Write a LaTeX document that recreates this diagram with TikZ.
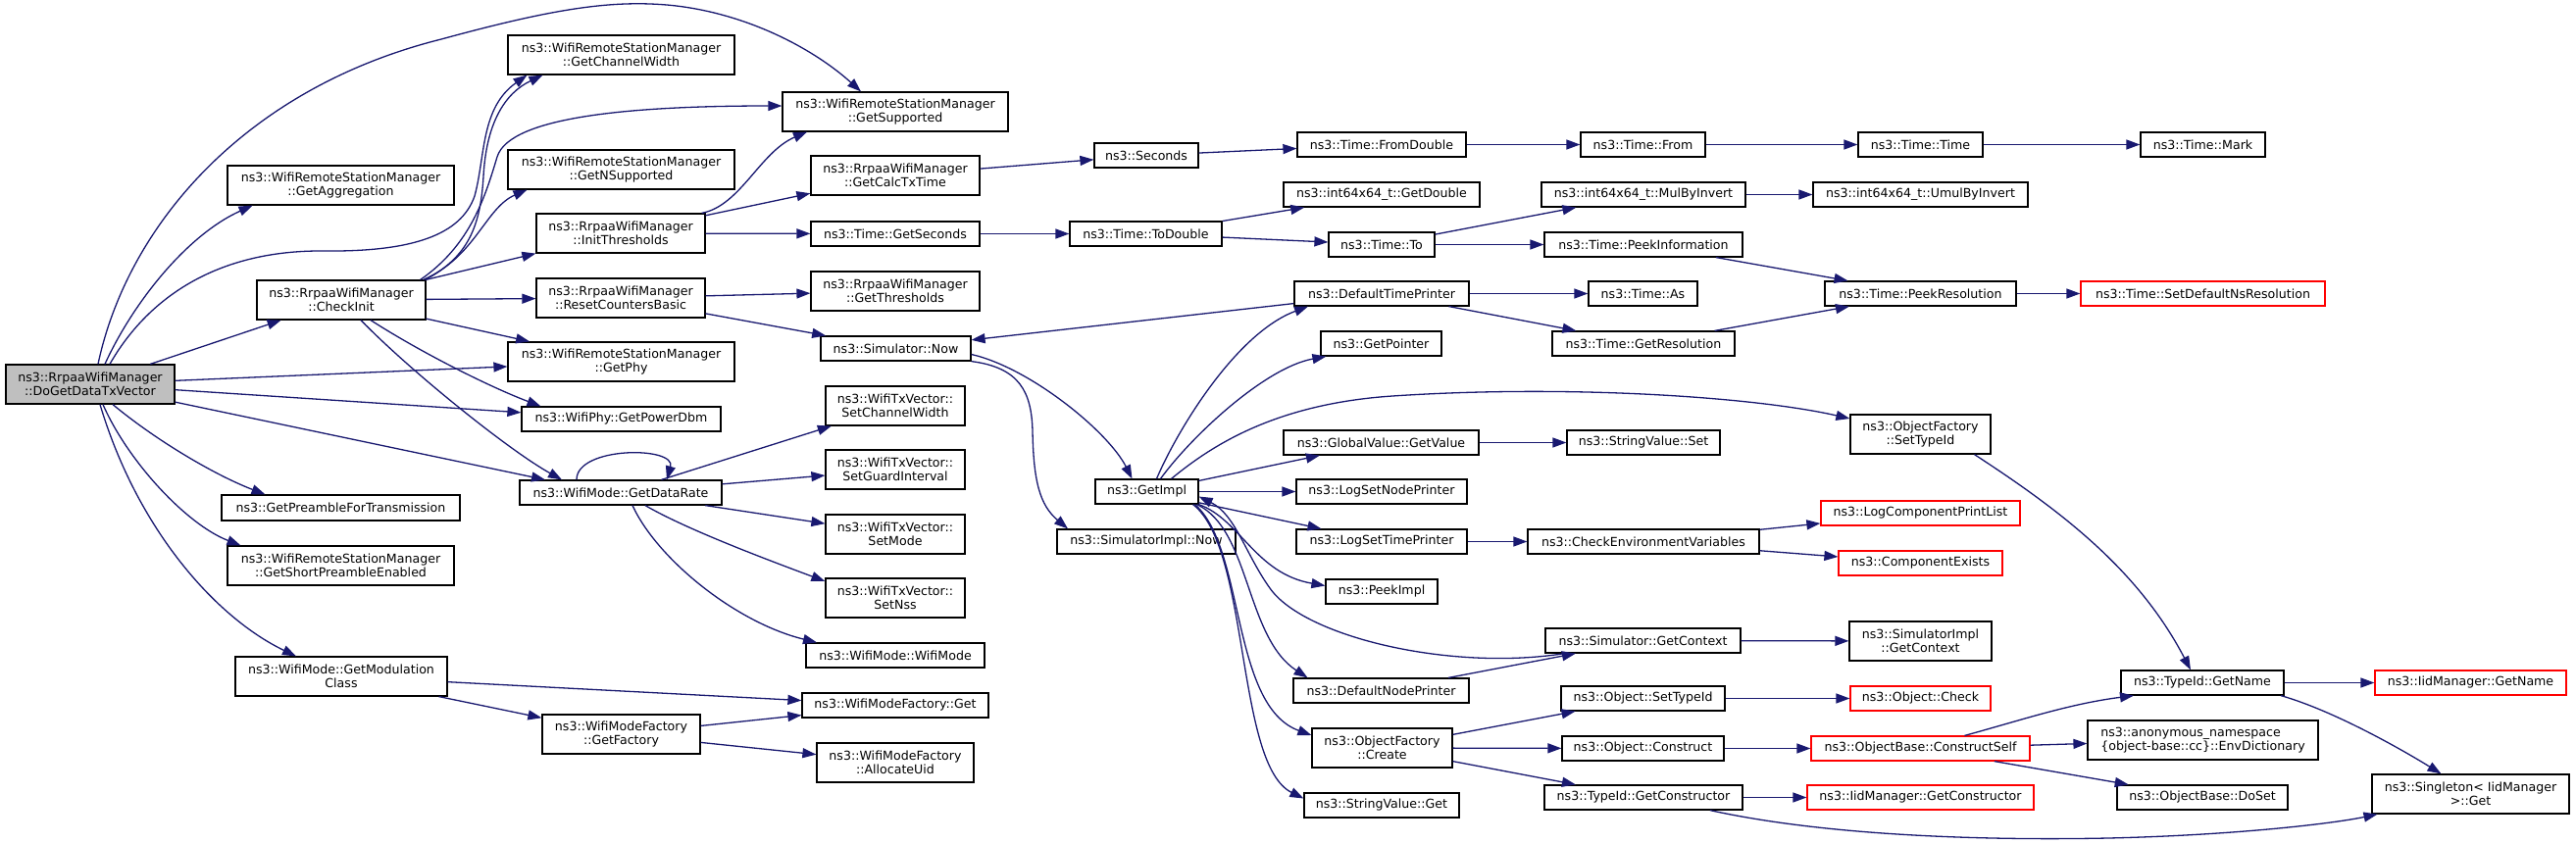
\documentclass[tikz,border=0pt]{standalone}
\usepackage{fontspec}
\setmainfont{DejaVu Sans}
\usetikzlibrary{arrows.meta}
\definecolor{navy}{HTML}{191970}
\definecolor{rootfill}{HTML}{BFBFBF}
\tikzset{
 box/.style={draw=black, line width=1.2pt, fill=white, rectangle, inner sep=0pt, align=center, font=\fontsize{12.6}{14}\selectfont},
 root/.style={fill=rootfill},
 trunc/.style={draw=red},
 arr/.style={draw=navy, line width=1.3pt, -{Triangle[length=14pt,width=10pt]}},
}
\newcommand\mybox[7][]{\node[box,#1,minimum width={#4-#3},minimum height={#6-#5}] (#2) at ({(#3+#4)/2},{(#5+#6)/2}) {#7};}
\begin{document}
\begin{tikzpicture}[x=1pt,y=-1pt]
\fill[white] (0,0) rectangle (2627,860);
\useasboundingbox (0,0) rectangle (2627,860);
% column 0
\mybox[root]{D}{6}{178}{372}{412}{ns3::RrpaaWifiManager\\::DoGetDataTxVector}
% column 1
\mybox{Agg}{232}{463}{169}{209}{ns3::WifiRemoteStationManager\\::GetAggregation}
\mybox{CI}{262}{434}{286}{326}{ns3::RrpaaWifiManager\\::CheckInit}
\mybox{Pre}{226}{469}{505}{531}{ns3::GetPreambleForTransmission}
\mybox{SPE}{232}{463}{557}{597}{ns3::WifiRemoteStationManager\\::GetShortPreambleEnabled}
\mybox{MC}{240}{456}{670}{710}{ns3::WifiMode::GetModulation\\Class}
% column 2
\mybox{CW}{518}{749}{36}{76}{ns3::WifiRemoteStationManager\\::GetChannelWidth}
\mybox{NS}{518}{749}{153}{193}{ns3::WifiRemoteStationManager\\::GetNSupported}
\mybox{IT}{547}{719}{218}{258}{ns3::RrpaaWifiManager\\::InitThresholds}
\mybox{RCB}{547}{719}{284}{324}{ns3::RrpaaWifiManager\\::ResetCountersBasic}
\mybox{GP}{518}{749}{349}{389}{ns3::WifiRemoteStationManager\\::GetPhy}
\mybox{PD}{532}{735}{415}{440}{ns3::WifiPhy::GetPowerDbm}
\mybox{DR}{530}{736}{490}{515}{ns3::WifiMode::GetDataRate}
\mybox{GF}{553}{714}{729}{769}{ns3::WifiModeFactory\\::GetFactory}
% column 3
\mybox{GS}{798}{1028}{94}{134}{ns3::WifiRemoteStationManager\\::GetSupported}
\mybox{CT}{827}{999}{159}{199}{ns3::RrpaaWifiManager\\::GetCalcTxTime}
\mybox{GSec}{827}{999}{226}{251}{ns3::Time::GetSeconds}
\mybox{GT}{827}{999}{277}{317}{ns3::RrpaaWifiManager\\::GetThresholds}
\mybox{SN}{837}{990}{343}{368}{ns3::Simulator::Now}
\mybox{SCW}{842}{984}{394}{434}{ns3::WifiTxVector::\\SetChannelWidth}
\mybox{SGI}{842}{984}{459}{499}{ns3::WifiTxVector::\\SetGuardInterval}
\mybox{SM}{842}{984}{525}{565}{ns3::WifiTxVector::\\SetMode}
\mybox{SNss}{842}{984}{590}{630}{ns3::WifiTxVector::\\SetNss}
\mybox{WM}{822}{1004}{656}{681}{ns3::WifiMode::WifiMode}
\mybox{WMFG}{818}{1008}{707}{732}{ns3::WifiModeFactory::Get}
\mybox{AU}{833}{993}{758}{798}{ns3::WifiModeFactory\\::AllocateUid}
% column 4
\mybox{Sec}{1116}{1222}{146}{171}{ns3::Seconds}
\mybox{TD}{1091}{1246}{226}{251}{ns3::Time::ToDouble}
\mybox{GI}{1117}{1222}{489}{514}{ns3::GetImpl}
\mybox{SIN}{1078}{1260}{540}{565}{ns3::SimulatorImpl::Now}
% column 5
\mybox{FD}{1323}{1495}{135}{160}{ns3::Time::FromDouble}
\mybox{GD}{1309}{1509}{186}{211}{ns3::int64x64\_t::GetDouble}
\mybox{TT}{1355}{1463}{237}{262}{ns3::Time::To}
\mybox{DTP}{1320}{1498}{287}{312}{ns3::DefaultTimePrinter}
\mybox{GPtr}{1347}{1470}{338}{363}{ns3::GetPointer}
\mybox{GV}{1309}{1508}{439}{464}{ns3::GlobalValue::GetValue}
\mybox{LSN}{1322}{1496}{489}{514}{ns3::LogSetNodePrinter}
\mybox{LST}{1322}{1496}{540}{565}{ns3::LogSetTimePrinter}
\mybox{PI}{1352}{1466}{591}{616}{ns3::PeekImpl}
\mybox{DNP}{1319}{1498}{692}{717}{ns3::DefaultNodePrinter}
\mybox{OFC}{1338}{1481}{743}{783}{ns3::ObjectFactory\\::Create}
\mybox{SVG}{1330}{1488}{809}{834}{ns3::StringValue::Get}
% column 6
\mybox{From}{1612}{1739}{135}{160}{ns3::Time::From}
\mybox{MBI}{1572}{1780}{186}{211}{ns3::int64x64\_t::MulByInvert}
\mybox{PInf}{1575}{1777}{237}{262}{ns3::Time::PeekInformation}
\mybox{As}{1620}{1731}{287}{312}{ns3::Time::As}
\mybox{GR}{1583}{1769}{338}{363}{ns3::Time::GetResolution}
\mybox{SVS}{1598}{1754}{439}{464}{ns3::StringValue::Set}
\mybox{CEV}{1558}{1794}{540}{565}{ns3::CheckEnvironmentVariables}
\mybox{SGC}{1576}{1775}{641}{666}{ns3::Simulator::GetContext}
\mybox{OST}{1592}{1759}{700}{725}{ns3::Object::SetTypeId}
\mybox{OC}{1593}{1758}{751}{776}{ns3::Object::Construct}
\mybox{TGC}{1575}{1777}{801}{826}{ns3::TypeId::GetConstructor}
% column 7
\mybox{TTime}{1895}{2022}{135}{160}{ns3::Time::Time}
\mybox{UMI}{1849}{2068}{186}{211}{ns3::int64x64\_t::UmulByInvert}
\mybox{PR}{1861}{2056}{287}{312}{ns3::Time::PeekResolution}
\mybox{OFS}{1887}{2030}{423}{463}{ns3::ObjectFactory\\::SetTypeId}
\mybox[trunc]{LCPL}{1857}{2060}{511}{536}{ns3::LogComponentPrintList}
\mybox[trunc]{CE}{1875}{2042}{562}{587}{ns3::ComponentExists}
\mybox{SIGC}{1886}{2031}{634}{674}{ns3::SimulatorImpl\\::GetContext}
\mybox[trunc]{OCk}{1887}{2030}{700}{725}{ns3::Object::Check}
\mybox[trunc]{OBCS}{1847}{2070}{751}{776}{ns3::ObjectBase::ConstructSelf}
\mybox[trunc]{IMGC}{1843}{2074}{801}{826}{ns3::IidManager::GetConstructor}
% column 8
\mybox{Mark}{2183}{2310}{135}{160}{ns3::Time::Mark}
\mybox[trunc]{SDNR}{2122}{2371}{287}{312}{ns3::Time::SetDefaultNsResolution}
\mybox{TGN}{2163}{2329}{684}{709}{ns3::TypeId::GetName}
\mybox[align=left]{ED}{2129}{2364}{735}{775}{ns3::anonymous\_namespace\\\{object-base::cc\}::EnvDictionary}
\mybox{DS}{2159}{2333}{801}{826}{ns3::ObjectBase::DoSet}
% column 9
\mybox[trunc]{IMGN}{2422}{2617}{684}{709}{ns3::IidManager::GetName}
\mybox{Sing}{2419}{2620}{790}{830}{ns3::Singleton{\textless} IidManager\\{\textgreater}::Get}
% ---- edges from DoGetDataTxVector
\draw[arr] ([xshift=8pt]D.north) .. controls (130,230) and (250,90) .. (450,40) .. controls (560,10) and (620,0) .. (680,5) .. controls (760,12) and (830,50) .. ([xshift=-35pt]GS.north);
\draw[arr] ([xshift=15pt]D.north) .. controls (135,310) and (190,240) .. ([xshift=-90pt]Agg.south);
\draw[arr] ([xshift=20pt]D.north) .. controls (150,305) and (220,255) .. (330,256) .. controls (420,257) and (470,240) .. (484,200) .. controls (495,160) and (490,110) .. ([xshift=-96pt]CW.south);
\draw[arr] (D) -- (CI);
\draw[arr] (D) -- (GP);
\draw[arr] (D) -- (PD);
\draw[arr] (D) -- ([xshift=-77pt]DR.north);
\draw[arr] ([xshift=23pt]D.south) .. controls (160,450) and (220,485) .. ([xshift=-77pt]Pre.north);
\draw[arr] ([xshift=13pt]D.south) .. controls (130,470) and (190,535) .. ([xshift=-102pt]SPE.north);
\draw[arr] ([xshift=10pt]D.south) .. controls (140,540) and (220,630) .. ([xshift=-46pt]MC.north);
% ---- CheckInit
\draw[arr] ([xshift=-1pt]CI.north east) .. controls (478,262) and (490,230) .. (493,180) .. controls (496,125) and (515,95) .. ([xshift=-80pt]CW.south);
\draw[arr] ([xshift=-6pt]CI.north east) .. controls (480,250) and (495,200) .. (507,160) .. controls (520,118) and (650,108) .. ([yshift=6pt]GS.west);
\draw[arr] ([xshift=-3pt]CI.north east) .. controls (485,262) and (495,212) .. ([xshift=-96pt]NS.south);
\draw[arr] (CI) -- (IT);
\draw[arr] (CI) -- (RCB);
\draw[arr] (CI) -- (GP);
\draw[arr] ([xshift=30pt]CI.south) .. controls (430,360) and (500,395) .. ([xshift=-82pt]PD.north);
\draw[arr] ([xshift=20pt]CI.south) .. controls (420,380) and (520,460) .. ([xshift=-60pt]DR.north);
\draw[arr] ([xshift=-45pt]DR.north) .. controls (588,455) and (690,455) .. ([xshift=47pt]DR.north);
% ---- InitThresholds, ResetCountersBasic
\draw[arr] ([xshift=-4pt]IT.north east) .. controls (755,210) and (775,155) .. ([xshift=-90pt]GS.south);
\draw[arr] (IT) -- (CT);
\draw[arr] (IT) -- (GSec);
\draw[arr] (RCB) -- (GT);
\draw[arr] (RCB) -- (SN);
% ---- time chain
\draw[arr] (CT) -- (Sec);
\draw[arr] (Sec) -- (FD);
\draw[arr] (FD) -- (From);
\draw[arr] (From) -- (TTime);
\draw[arr] (TTime) -- (Mark);
\draw[arr] (GSec) -- (TD);
\draw[arr] (TD) -- (GD);
\draw[arr] (TD) -- (TT);
\draw[arr] (TT) -- (MBI);
\draw[arr] (TT) -- (PInf);
\draw[arr] (MBI) -- (UMI);
\draw[arr] (PInf) -- (PR);
\draw[arr] (DTP) -- (As);
\draw[arr] (DTP) -- (GR);
\draw[arr] (DTP) -- (SN);
\draw[arr] (GR) -- (PR);
\draw[arr] (PR) -- (SDNR);
% ---- Simulator::Now
\draw[arr] ([yshift=-6pt]SN.east) .. controls (1050,375) and (1130,440) .. ([xshift=-15pt]GI.north);
\draw[arr] (SN.south east) .. controls (1040,375) and (1052,400) .. (1053,440) .. controls (1054,490) and (1060,515) .. ([xshift=-80pt]SIN.north);
% ---- GetImpl
\draw[arr] ([xshift=10pt]GI.north) .. controls (1200,440) and (1260,340) .. ([xshift=-75pt]DTP.south);
\draw[arr] ([xshift=14pt]GI.north) .. controls (1215,445) and (1290,375) .. ([xshift=6pt]GPtr.south west);
\draw[arr] ([xshift=25pt]GI.north) .. controls (1235,455) and (1300,412) .. (1420,404) .. controls (1600,392) and (1790,405) .. ([yshift=16pt]OFS.west);
\draw[arr] (GI) -- (GV);
\draw[arr] (GI) -- (LSN);
\draw[arr] (GI) -- (LST);
\draw[arr] (GI.south east) .. controls (1265,530) and (1280,585) .. ([yshift=6pt]PI.west);
\draw[arr] ([xshift=-80pt]SGC.south) .. controls (1480,685) and (1330,650) .. (1295,600) .. controls (1270,565) and (1260,525) .. ([yshift=-5pt]GI.east);
\draw[arr] ([xshift=-2pt]GI.south east) .. controls (1275,540) and (1270,650) .. ([xshift=-75pt]DNP.north);
\draw[arr] ([xshift=-4pt]GI.south east) .. controls (1270,560) and (1255,720) .. ([yshift=13pt]OFC.west);
\draw[arr] ([xshift=-6pt]GI.south east) .. controls (1275,560) and (1260,780) .. ([yshift=7pt]SVG.west);
% ---- rest
\draw[arr] (GV) -- (SVS);
\draw[arr] (LST) -- (CEV);
\draw[arr] (CEV) -- (LCPL);
\draw[arr] (CEV) -- (CE);
\draw[arr] (SGC) -- (SIGC);
\draw[arr] (DNP) -- (SGC);
\draw[arr] (OST) -- (OCk);
\draw[arr] (OFC) -- (OST);
\draw[arr] (OFC) -- (OC);
\draw[arr] (OFC) -- (TGC);
\draw[arr] (OC) -- (OBCS);
\draw[arr] ([xshift=45pt]OBCS.north) .. controls (2060,735) and (2110,718) .. ([xshift=-70pt]TGN.south);
\draw[arr] (OBCS) -- (ED);
\draw[arr] (OBCS) -- (DS);
\draw[arr] (TGC) -- (IMGC);
\draw[arr] ([xshift=68pt]TGC.south) .. controls (1850,850) and (2000,858) .. (2150,855) .. controls (2280,852) and (2380,840) .. ([xshift=-95pt]Sing.south);
\draw[arr] ([xshift=55pt]OFS.south) .. controls (2100,520) and (2180,580) .. ([xshift=-12pt]TGN.north);
\draw[arr] (TGN) -- (IMGN);
\draw[arr] ([xshift=80pt]TGN.south) .. controls (2380,725) and (2450,765) .. ([xshift=-30pt]Sing.north);
\draw[arr] (MC) -- (WMFG);
\draw[arr] (MC) -- (GF);
\draw[arr] (GF) -- (WMFG);
\draw[arr] (GF) -- (AU);
\draw[arr] (DR) -- (SCW);
\draw[arr] (DR) -- (SGI);
\draw[arr] (DR) -- (SM);
\draw[arr] ([xshift=25pt]DR.south) .. controls (700,540) and (780,570) .. ([yshift=17pt]SNss.west);
\draw[arr] ([xshift=12pt]DR.south) .. controls (670,570) and (750,635) .. ([xshift=-80pt]WM.north);
\end{tikzpicture}
\end{document}
